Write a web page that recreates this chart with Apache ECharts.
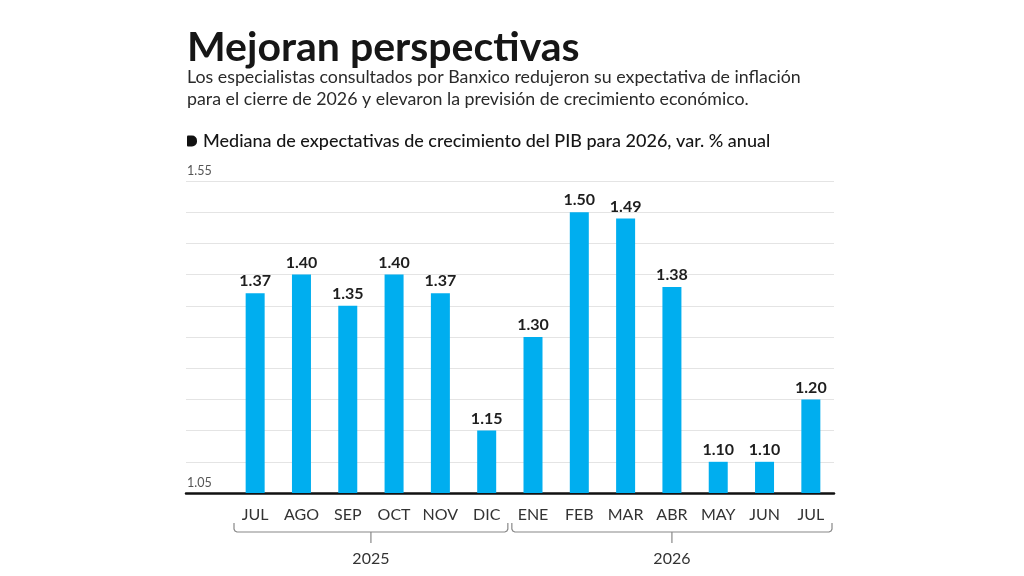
<!DOCTYPE html>
<html>
<head>
<meta charset="utf-8">
<script src="https://cdn.jsdelivr.net/npm/echarts@6/dist/echarts.min.js"></script>
<style>
  html, body { margin: 0; padding: 0; background: #fff; }
  #main { width: 1024px; height: 576px; }
</style>
</head>
<body>
<div id="main"></div>
<script>
// datos de la grafica
const months = ['JUL', 'AGO', 'SEP', 'OCT', 'NOV', 'DIC', 'ENE', 'FEB', 'MAR', 'ABR', 'MAY', 'JUN', 'JUL'];
const pibValues = [1.37, 1.40, 1.35, 1.40, 1.37, 1.15, 1.30, 1.50, 1.49, 1.38, 1.10, 1.10, 1.20];
const years = ['2025', '2026'];
const monthsPerYear = [6, 7];
const yTickLabels = ['1.05', '1.55'];
const yMin = 1.05;
const yMax = 1.55;
const yStep = 0.05;

const FONT = 'Lato, "Noto Sans", sans-serif';
const BAR_COLOR = '#00AEEF';

const chartDom = document.getElementById('main');
const myChart = echarts.init(chartDom);

const option = {
  animation: false,
  backgroundColor: '#fff',
  textStyle: { fontFamily: FONT },
  title: [
    {
      text: 'Mejoran perspectivas',
      left: 182,
      top: 22,
      textStyle: { fontSize: 41, fontWeight: 'bold', color: '#161616', fontFamily: FONT }
    },
    {
      text: 'Los especialistas consultados por Banxico redujeron su expectativa de inflación\npara el cierre de 2026 y elevaron la previsión de crecimiento económico.',
      left: 182,
      top: 61,
      textStyle: { fontSize: 17.8, fontWeight: 'normal', color: '#2a2a2a', lineHeight: 22, fontFamily: FONT }
    },
    {
      text: '{m|}{t|Mediana de expectativas de crecimiento del PIB para 2026, var. % anual}',
      left: 182,
      top: 127,
      textStyle: {
        rich: {
          m: { width: 10, height: 11, backgroundColor: '#111', borderRadius: [1, 5, 5, 1] },
          t: { fontSize: 18, fontWeight: 500, color: '#161616', padding: [0, 0, 0, 6], fontFamily: FONT }
        }
      }
    }
  ],
  grid: [
    { left: 186, right: 190, top: 181, bottom: 83 },
    { left: 232, right: 190, top: 181, bottom: 83 }
  ],
  xAxis: [
    {
      gridIndex: 0,
      type: 'value',
      min: 0,
      max: 1,
      axisLine: { show: true, lineStyle: { color: '#111', width: 2.5 } },
      axisTick: { show: false },
      axisLabel: { show: false },
      splitLine: { show: false }
    },
    {
      gridIndex: 1,
      type: 'category',
      data: months,
      axisLine: { show: false },
      axisTick: { show: false },
      axisLabel: { interval: 0, color: '#333', fontSize: 16, margin: 14, fontFamily: FONT }
    }
  ],
  yAxis: [
    {
      gridIndex: 0,
      type: 'value',
      min: yMin,
      max: yMax,
      interval: yStep,
      axisLine: { show: false },
      axisTick: { show: false },
      splitLine: { lineStyle: { color: '#e4e4e4', width: 1 } },
      axisLabel: {
        inside: true,
        margin: 1,
        verticalAlign: 'bottom',
        padding: [0, 0, 4, 0],
        color: '#555',
        fontSize: 12.5,
        fontFamily: FONT,
        formatter: (v) => (yTickLabels.indexOf(v.toFixed(2)) >= 0 ? v.toFixed(2) : '')
      }
    },
    {
      gridIndex: 1,
      type: 'value',
      min: yMin,
      max: yMax,
      interval: yStep,
      show: false
    }
  ],
  series: [
    {
      type: 'bar',
      xAxisIndex: 1,
      yAxisIndex: 1,
      data: pibValues,
      barWidth: 19,
      itemStyle: { color: BAR_COLOR },
      label: {
        show: true,
        position: 'top',
        distance: 4,
        color: '#1e1e1e',
        fontSize: 16,
        fontWeight: 'bold',
        fontFamily: FONT,
        formatter: (p) => p.value.toFixed(2)
      }
    }
  ]
};

myChart.setOption(option);

// llaves de los años, calculadas desde el eje
const band = myChart.convertToPixel({ xAxisIndex: 1 }, 1) - myChart.convertToPixel({ xAxisIndex: 1 }, 0);
const baseY = myChart.convertToPixel({ yAxisIndex: 1 }, yMin);
const graphics = [];
let start = 0;
years.forEach((year, k) => {
  const end = start + monthsPerYear[k] - 1;
  const xl = myChart.convertToPixel({ xAxisIndex: 1 }, start) - band / 2 + 2;
  const xr = myChart.convertToPixel({ xAxisIndex: 1 }, end) + band / 2 - 2;
  const xc = (xl + xr) / 2;
  const yTop = baseY + 30;
  const yLine = baseY + 39;
  graphics.push({
    type: 'polyline',
    shape: {
      points: [
        [xl, yTop], [xl, yLine - 3], [xl + 1, yLine - 1], [xl + 3, yLine],
        [xr - 3, yLine], [xr - 1, yLine - 1], [xr, yLine - 3], [xr, yTop]
      ]
    },
    style: { stroke: '#888', lineWidth: 1.2, fill: null }
  });
  graphics.push({
    type: 'line',
    shape: { x1: xc, y1: yLine, x2: xc, y2: yLine + 11 },
    style: { stroke: '#888', lineWidth: 1.2 }
  });
  graphics.push({
    type: 'text',
    x: xc,
    y: baseY + 66,
    style: {
      text: year,
      align: 'center',
      verticalAlign: 'middle',
      fill: '#333',
      fontSize: 16,
      fontFamily: FONT
    }
  });
  start = end + 1;
});
myChart.setOption({ graphic: graphics });
</script>
</body>
</html>
